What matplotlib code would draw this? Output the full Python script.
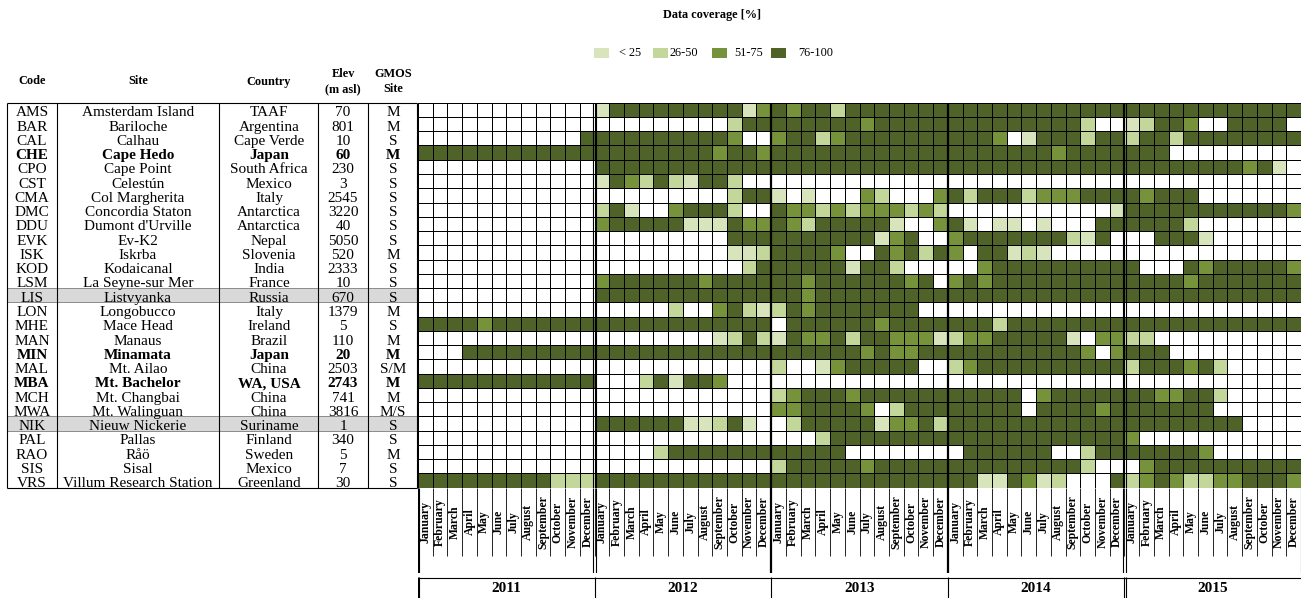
import numpy as np
import matplotlib
matplotlib.use("Agg")
import matplotlib.pyplot as plt
from matplotlib.colors import ListedColormap, BoundaryNorm
from matplotlib.patches import Rectangle

# ---------------------------------------------------------------- station table
codes = ["AMS", "BAR", "CAL", "CHE", "CPO", "CST", "CMA", "DMC", "DDU", "EVK",
         "ISK", "KOD", "LSM", "LIS", "LON", "MHE", "MAN", "MIN", "MAL", "MBA",
         "MCH", "MWA", "NIK", "PAL", "RAO", "SIS", "VRS"]
sites = ["Amsterdam Island", "Bariloche", "Calhau", "Cape Hedo", "Cape Point",
         "Celestún", "Col Margherita", "Concordia Staton", "Dumont d'Urville",
         "Ev-K2", "Iskrba", "Kodaicanal", "La Seyne-sur Mer", "Listvyanka",
         "Longobucco", "Mace Head", "Manaus", "Minamata", "Mt. Ailao",
         "Mt. Bachelor", "Mt. Changbai", "Mt. Walinguan", "Nieuw Nickerie",
         "Pallas", "Råö", "Sisal", "Villum Research Station"]
countries = ["TAAF", "Argentina", "Cape Verde", "Japan", "South Africa", "Mexico",
             "Italy", "Antarctica", "Antarctica", "Nepal", "Slovenia", "India",
             "France", "Russia", "Italy", "Ireland", "Brazil", "Japan", "China",
             "WA, USA", "China", "China", "Suriname", "Finland", "Sweden",
             "Mexico", "Greenland"]
elevations = ["70", "801", "10", "60", "230", "3", "2545", "3220", "40", "5050",
              "520", "2333", "10", "670", "1379", "5", "110", "20", "2503",
              "2743", "741", "3816", "1", "340", "5", "7", "30"]
gmos_site = ["M", "M", "S", "M", "S", "S", "S", "S", "S", "S", "M", "S", "S",
             "S", "M", "S", "M", "M", "S/M", "M", "M", "M/S", "S", "S", "M",
             "S", "S"]
bold_codes = ["CHE", "MIN", "MBA"]
shaded_codes = ["LIS", "NIK"]

years = [2011, 2012, 2013, 2014, 2015]
months = ["January", "February", "March", "April", "May", "June", "July",
          "August", "September", "October", "November", "December"]

# coverage classes: 0 = no data, 1 = <25, 2 = 26-50, 3 = 51-75, 4 = 76-100
coverage_labels = ["< 25", "26-50", "51-75", "76-100"]
coverage_colors = ["#D8E4BC", "#C4D79B", "#76933C", "#4F6228"]

# monthly coverage class per station (one string of 12 months per station)
cov_2011 = ["000000000000", "000000000000", "000000000004", "444444444444",
            "000000000000", "000000000000", "000000000000", "000000000000",
            "000000000000", "000000000000", "000000000000", "000000000000",
            "000000000000", "000000000000", "000000000000", "444434444444",
            "000000000000", "000444444444", "000000000000", "444444444444",
            "000000000000", "000000000000", "000000000000", "000000000000",
            "000000000000", "000000000000", "444444444222"]
cov_2012 = ["144444444413", "000000000244", "444444444300", "444444443443",
            "444444444444", "143242144200", "000000000244", "241003444200",
            "344444111433", "000000000444", "000000000112", "000000000024",
            "344444434444", "444444444444", "000002003421", "444444444444",
            "000000001242", "444444444444", "000000000000", "000241443000",
            "000000000000", "000000000000", "444444112410", "000000000000",
            "000024444444", "000000000000", "444444444444"]
cov_2013 = ["434424444444", "444444344444", "344234444444", "444444444444",
            "444444444444", "000000000000", "101000320003", "433232333232",
            "432444441003", "444444413400", "444430043424", "444441442000",
            "443444444340", "443444444444", "243444444400", "044444434444",
            "143342443331", "444444343344", "200134444400", "000000000000",
            "234443444444", "334444302444", "024444413342", "000244444444",
            "444440000000", "244444344444", "444444444444"]
cov_2014 = ["444444444444", "444444444200", "444301444244", "444444434444",
            "444444444444", "000000000000", "424442333444", "000000000001",
            "410110100044", "344444442140", "304412100000", "003444444444",
            "343444444444", "444444444444", "000000000000", "444244444444",
            "233444441033", "444444444303", "234444444444", "000000000000",
            "444440344444", "444440444434", "444444444444", "444444444444",
            "044444400244", "444444444200", "441143120004"]
cov_2015 = ["444444444444", "124430044440", "244244444444", "444000000000",
            "444444443410", "000000000000", "434440000000", "444444444443",
            "444420000000", "004441000000", "000000000000", "400043444443",
            "444434444444", "444444444444", "000000000000", "444444444444",
            "220000000000", "444000000000", "244434200000", "000000000000",
            "443344200000", "444444000000", "444444440000", "300000000000",
            "444443000000", "034444444444", "234322334443"]

coverage = np.array([[int(c) for c in "".join(rows)]
                     for rows in zip(cov_2011, cov_2012, cov_2013, cov_2014, cov_2015)])

# ---------------------------------------------------------------- figure
W, H = 1302, 598
plt.rcParams["font.family"] = ["Liberation Serif", "DejaVu Serif"]
fig = plt.figure(figsize=(W / 100, H / 100), dpi=100)

n_rows = len(codes)
n_cols = len(years) * len(months)
grid_left, grid_right = 418.0, 1301.0
grid_top, grid_bottom = 102.7, 487.7
row_h = (grid_bottom - grid_top) / n_rows


def px_axes(x0, y0, x1, y1):
    return fig.add_axes([x0 / W, 1 - y1 / H, (x1 - x0) / W, (y1 - y0) / H])


base = fig.add_axes([0, 0, 1, 1])
base.set_xlim(0, W)
base.set_ylim(H, 0)
base.axis("off")

# ---------------------------------------------------------------- legend
base.text(712, 15, "Data coverage [%]", ha="center", va="center",
          fontsize=8.8, fontweight="bold")
legend_patch_x = [594, 653, 712, 771]
legend_text_x = [619, 670, 734, 798]
for px, tx, lab, col in zip(legend_patch_x, legend_text_x, coverage_labels, coverage_colors):
    base.add_patch(Rectangle((px, 48), 15, 10, facecolor=col, edgecolor="none"))
    base.text(tx, 53.5, lab, ha="left", va="center", fontsize=8.8)

# ---------------------------------------------------------------- table
col_edges = [7.3, 57.3, 219.3, 318.3, 367.7, 416.7]
col_centers = [32, 138, 269, 343, 393]

headers = ["Code", "Site", "Country", "Elev\n(m asl)", "GMOS\nSite"]
for x, h in zip(col_centers, headers):
    base.text(x, 81.5, h, ha="center", va="center", fontsize=8.8,
              fontweight="bold", linespacing=1.35)

for i, code in enumerate(codes):
    y0 = grid_top + i * row_h
    if code in shaded_codes:
        base.add_patch(Rectangle((col_edges[0], y0), col_edges[-1] - col_edges[0], row_h,
                                 facecolor="#D9D9D9", edgecolor="#8C8C8C", lw=0.7, zorder=1))
    weight = "bold" if code in bold_codes else "normal"
    values = [code, sites[i], countries[i], elevations[i], gmos_site[i]]
    clip = Rectangle((col_edges[0], y0), col_edges[-1] - col_edges[0], row_h,
                     transform=base.transData)
    for x, v in zip(col_centers, values):
        t = base.text(x, y0 + row_h - 0.6, v, ha="center", va="baseline",
                      fontsize=11, fontweight=weight, zorder=3)
        t.set_clip_path(clip)

base.vlines(col_edges, grid_top, grid_bottom, colors="black", lw=0.8, zorder=4)
base.hlines([grid_top, grid_bottom], col_edges[0], col_edges[-1],
            colors="black", lw=0.8, zorder=4)

# ---------------------------------------------------------------- coverage grid
cmap = ListedColormap(["white"] + coverage_colors)
norm = BoundaryNorm(np.arange(-0.5, 5.5, 1), cmap.N)

ax = px_axes(grid_left, grid_top, grid_right, grid_bottom)
ax.pcolormesh(np.arange(n_cols + 1), np.arange(n_rows + 1), coverage,
              cmap=cmap, norm=norm, edgecolors="black", linewidth=0.6)
ax.set_xlim(0, n_cols)
ax.set_ylim(n_rows, 0)
ax.axis("off")

double_bounds = [12, 48]
thick_bounds = [24, 36]
for b in double_bounds:
    ax.axvline(b - 0.08, color="black", lw=0.8)
    ax.axvline(b + 0.08, color="black", lw=0.8)
for b in thick_bounds:
    ax.axvline(b, color="black", lw=1.6)

# ---------------------------------------------------------------- month labels
mx = px_axes(grid_left, grid_bottom, grid_right, 573)
mx.set_xlim(0, n_cols)
mx.set_ylim(573, grid_bottom)
mx.axis("off")
mx.vlines(np.arange(n_cols + 1), grid_bottom, 556, colors="black", lw=0.6)
mx.vlines([0.0, 0.1, 60.0], grid_bottom, 573, colors="black", lw=0.8)
for b in double_bounds:
    mx.vlines([b - 0.08, b + 0.08], grid_bottom, 573, colors="black", lw=0.8)
for b in thick_bounds:
    mx.vlines([b], grid_bottom, 573, colors="black", lw=1.6)
for j in range(n_cols):
    mx.text(j + 0.5, 522, months[j % 12], rotation=90, ha="center", va="center",
            fontsize=8.5, fontweight="bold")

# ---------------------------------------------------------------- year labels
yx = px_axes(grid_left, 577, grid_right, 598)
yx.set_xlim(0, n_cols)
yx.set_ylim(598, 577)
yx.axis("off")
yx.hlines(577.6, 0, n_cols, colors="black", lw=0.8)
yx.vlines([0.0, 0.1, 12.0, 24.0, 36.0, 48.0, 48.1], 577, 598, colors="black", lw=0.8)
for k, yr in enumerate(years):
    yx.text(12 * k + 6, 589, str(yr), ha="center", va="center",
            fontsize=11, fontweight="bold")

fig.savefig("out.png", dpi=100)
